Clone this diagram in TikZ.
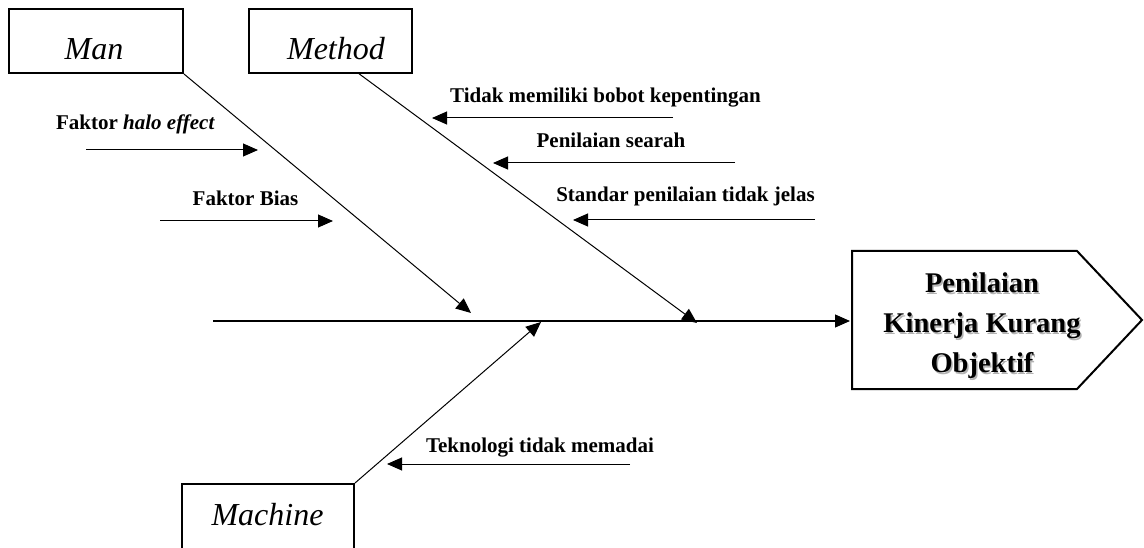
\documentclass[tikz,border=0pt]{standalone}
\usepackage{fontspec}
\setmainfont{Liberation Serif}
\usetikzlibrary{arrows.meta}
\begin{document}
\begin{tikzpicture}[x=1pt,y=-1pt,
  catbox/.style={draw, line width=2pt, inner sep=0pt},
  cattext/.style={font=\fontsize{32}{38}\selectfont\itshape, anchor=base, inner sep=0pt},
  lbl/.style={font=\fontsize{21}{25}\selectfont\bfseries, anchor=base, inner sep=0pt},
  headtext/.style={font=\fontsize{28.5}{40}\selectfont\bfseries, align=center, inner sep=0pt},
  tip/.style={-{Triangle[length=15pt,width=13pt]}},
  bone/.style={line width=1pt, tip},
  sub/.style={line width=1pt, tip}]
\useasboundingbox (0,0) rectangle (1144,548);

% category boxes
\node[catbox, minimum width=174pt, minimum height=64pt] (man) at (96,41) {};
\node[cattext] (manT) at (94,60) {Man};
\node[catbox, minimum width=163pt, minimum height=64pt] (method) at (330.5,41) {};
\node[cattext] (methodT) at (336,60) {Method};
\node[catbox, minimum width=172pt, minimum height=68pt] (machine) at (268,518) {};
\node[cattext] (machineT) at (267.5,525) {Machine};

% head
\coordinate (hA) at (852,251);
\coordinate (hB) at (1077,251);
\coordinate (hC) at (1142,320);
\coordinate (hD) at (1077,389);
\coordinate (hE) at (852,389);
\draw[line width=2pt, line join=miter] (hA) -- (hB) -- (hC) -- (hD) -- (hE) -- cycle;
\node[headtext, text=black!30] (headShadow) at (983.5,327.5)
  {Penilaian\\Kinerja Kurang\\Objektif};
\node[headtext] (head) at (982,326)
  {Penilaian\\Kinerja Kurang\\Objektif};

% spine
\coordinate (spineL) at (213,321);
\coordinate (hw) at (850,321);
\draw[line width=1.2pt, tip] (spineL) -- (hw);

% bones
\coordinate (manTip) at (471,313);
\coordinate (methS) at (358,73);
\coordinate (methTip) at (697,323);
\coordinate (machTip) at (541,322);
\draw[bone] (man.south east) -- (manTip);
\draw[bone] (methS) -- (methTip);
\draw[bone] (machine.north east) -- (machTip);

% sub-causes: Man
\node[lbl] (halo) at (135.5,130) {Faktor \textit{halo effect}};
\coordinate (haloS) at (86,150); \coordinate (haloE) at (258,150);
\draw[sub] (haloS) -- (haloE);
\node[lbl] (bias) at (245.5,206) {Faktor Bias};
\coordinate (biasS) at (160,221); \coordinate (biasE) at (333,221);
\draw[sub] (biasS) -- (biasE);

% sub-causes: Method
\node[lbl] (bobot) at (605.5,103) {Tidak memiliki bobot kepentingan};
\coordinate (bobotS) at (673,118); \coordinate (bobotE) at (432,118);
\draw[sub] (bobotS) -- (bobotE);
\node[lbl] (searah) at (611,148) {Penilaian searah};
\coordinate (searahS) at (735,163); \coordinate (searahE) at (493,163);
\draw[sub] (searahS) -- (searahE);
\node[lbl] (standar) at (685.5,202) {Standar penilaian tidak jelas};
\coordinate (standarS) at (815,220); \coordinate (standarE) at (573,220);
\draw[sub] (standarS) -- (standarE);

% sub-causes: Machine
\node[lbl] (tekno) at (540,452) {Teknologi tidak memadai};
\coordinate (teknoS) at (630,464); \coordinate (teknoE) at (387,464);
\draw[sub] (teknoS) -- (teknoE);
\end{tikzpicture}
\end{document}
